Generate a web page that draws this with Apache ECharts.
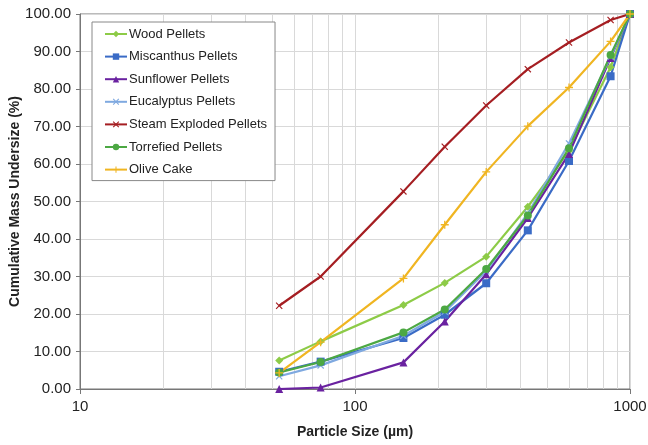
<!DOCTYPE html>
<html><head><meta charset="utf-8">
<script src="https://cdn.jsdelivr.net/npm/echarts@6/dist/echarts.min.js"></script>
<style>html,body{margin:0;padding:0;background:#fff}#c{width:648px;height:445px}</style>
</head><body><div id="c"></div>
<script>
const sizes = [53, 75, 150, 212, 300, 425, 600, 850, 1000];
const seriesNames = ["Wood Pellets","Miscanthus Pellets","Sunflower Pellets","Eucalyptus Pellets","Steam Exploded Pellets","Torrefied Pellets","Olive Cake"];
const wood       = [7.6, 12.7, 22.4, 28.3, 35.3, 48.6, 63.5, 85.8, 100];
const miscanthus = [4.6, 7.3, 13.6, 19.8, 28.2, 42.3, 60.8, 83.4, 100];
const sunflower  = [0.0, 0.4, 7.1, 18.0, 30.6, 45.6, 62.7, 88.3, 100];
const eucalyptus = [3.4, 6.3, 14.2, 20.6, 31.4, 46.8, 65.5, 88.6, 100];
const steam      = [22.2, 30.0, 52.7, 64.6, 75.6, 85.3, 92.4, 98.4, 100];
const torrefied  = [4.4, 7.2, 15.1, 21.2, 32.0, 46.3, 64.2, 89.1, 100];
const olive      = [4.3, 12.5, 29.5, 43.8, 57.9, 70.1, 80.4, 92.7, 100];
const minorGridX = [20,30,40,50,60,70,80,90,200,300,400,500,600,700,800,900];

const xCross = 'path://M0,1.2L1.2,0L5,3.8L8.8,0L10,1.2L6.2,5L10,8.8L8.8,10L5,6.2L1.2,10L0,8.8L3.8,5Z';
const plus = 'path://M4.2,0H5.8V4.2H10V5.8H5.8V10H4.2V5.8H0V4.2H4.2Z';

const vals = [wood, miscanthus, sunflower, eucalyptus, steam, torrefied, olive];
const colors = ['#8DCB47','#3A6BC6','#6A22A0','#7FA9E0','#A51E22','#4CA843','#F0B521'];
const symbols = ['diamond','rect','triangle', xCross, xCross, 'circle', plus];
const symSizes = [8, 8, 8, 7, 7, 8, 8];

const series = vals.map((v, i) => ({
  name: seriesNames[i],
  type: 'line',
  data: sizes.map((s, j) => [s, v[j]]),
  symbol: symbols[i],
  symbolSize: symSizes[i],
  showSymbol: true,
  lineStyle: {color: colors[i], width: 2.2},
  itemStyle: {color: colors[i]},
  z: 3
}));
series.unshift({
  name: '_grid', type: 'line', data: [], silent: true, z: 1,
  markLine: {silent: true, symbol: 'none', label: {show: false}, z: 1,
    lineStyle: {color: '#d9d9d9', width: 1, type: 'solid'},
    data: minorGridX.map(x => ({xAxis: x}))}
});

const chart = echarts.init(document.getElementById('c'), null, {renderer: 'canvas'});
chart.setOption({
  animation: false,
  backgroundColor: '#fff',
  textStyle: {fontFamily: 'Liberation Sans'},
  grid: {left: 80, right: 18, top: 14, bottom: 56, containLabel: false, outerBoundsMode: 'none',
    show: true, borderColor: '#777', borderWidth: 1, backgroundColor: 'transparent'},
  legend: {
    data: seriesNames, orient: 'vertical', left: 92, top: 22, z: 20,
    backgroundColor: '#fff', borderColor: '#888', borderWidth: 1,
    padding: [5, 8, 4, 12], itemGap: 8.6, itemWidth: 22, itemHeight: 8,
    textStyle: {fontSize: 13, lineHeight: 14, color: '#222', fontFamily: 'Liberation Sans', padding: [0,0,0,-3]}
  },
  xAxis: {
    type: 'log', logBase: 10, min: 10, max: 1000,
    name: 'Particle Size (µm)', nameLocation: 'middle', nameGap: 36, nameMoveOverlap: false,
    nameTextStyle: {fontSize: 14, fontWeight: 'bold', color: '#222'},
    axisLine: {show: true, lineStyle: {color: '#777', width: 1}},
    axisTick: {show: true, length: 5, lineStyle: {color: '#777'}},
    axisLabel: {fontSize: 15, color: '#222', margin: 10, formatter: v => String(Math.round(v))},
    splitLine: {show: true, lineStyle: {color: '#d9d9d9'}},
    minorTick: {show: false}
  },
  yAxis: {
    type: 'value', min: 0, max: 100, interval: 10,
    name: 'Cumulative Mass Undersize (%)', nameLocation: 'middle', nameGap: 58, nameMoveOverlap: false,
    nameTextStyle: {fontSize: 14, fontWeight: 'bold', color: '#222'},
    axisLine: {show: true, lineStyle: {color: '#777', width: 1}},
    axisTick: {show: true, length: 4, lineStyle: {color: '#777'}},
    axisLabel: {fontSize: 15, color: '#222', margin: 9, formatter: v => v.toFixed(2)},
    splitLine: {show: true, lineStyle: {color: '#d9d9d9'}}
  },
  series: series
});
</script></body></html>
